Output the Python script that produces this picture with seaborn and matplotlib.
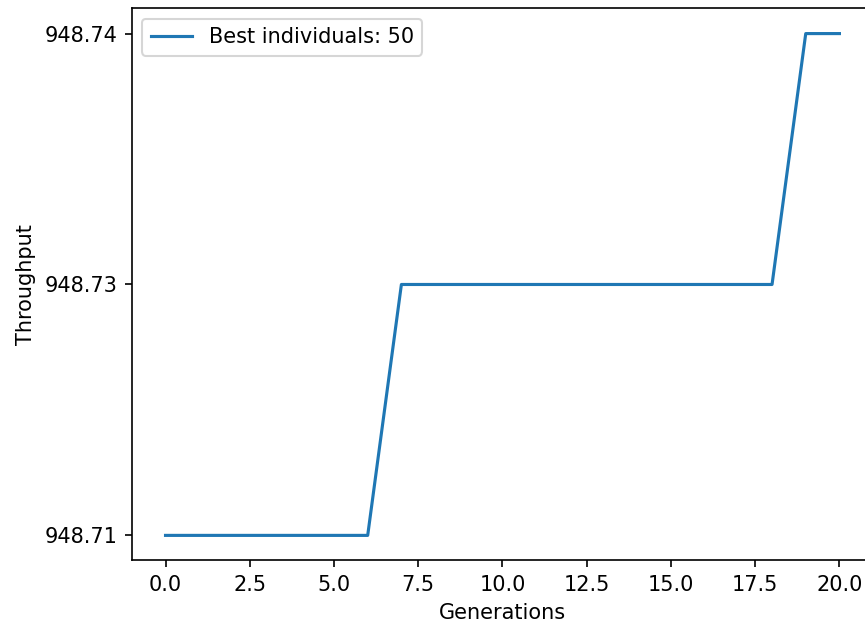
import matplotlib
matplotlib.use("Agg")
import matplotlib.pyplot as plt
import seaborn as sns

# Best throughput found at each generation of the genetic search
generations = list(range(21))
throughput = ["948.71"] * 7 + ["948.73"] * 12 + ["948.74"] * 2
series_label = "Best individuals: 50"

fig = plt.figure(figsize=(865 / 150, 624 / 150), dpi=150)
ax = fig.add_axes([0.1524, 0.1018, 0.857, 0.8846])

sns.lineplot(x=generations, y=throughput, estimator=None, sort=False,
             color="#1f77b4", linewidth=1.5, label=series_label, ax=ax)

# categorical y is drawn top-down by seaborn; put the first level at the bottom
if ax.yaxis_inverted():
    ax.invert_yaxis()

ax.set_xlabel("Generations")
ax.set_ylabel("Throughput")
ax.legend(loc="upper left")

fig.savefig("out.png", dpi=150)
